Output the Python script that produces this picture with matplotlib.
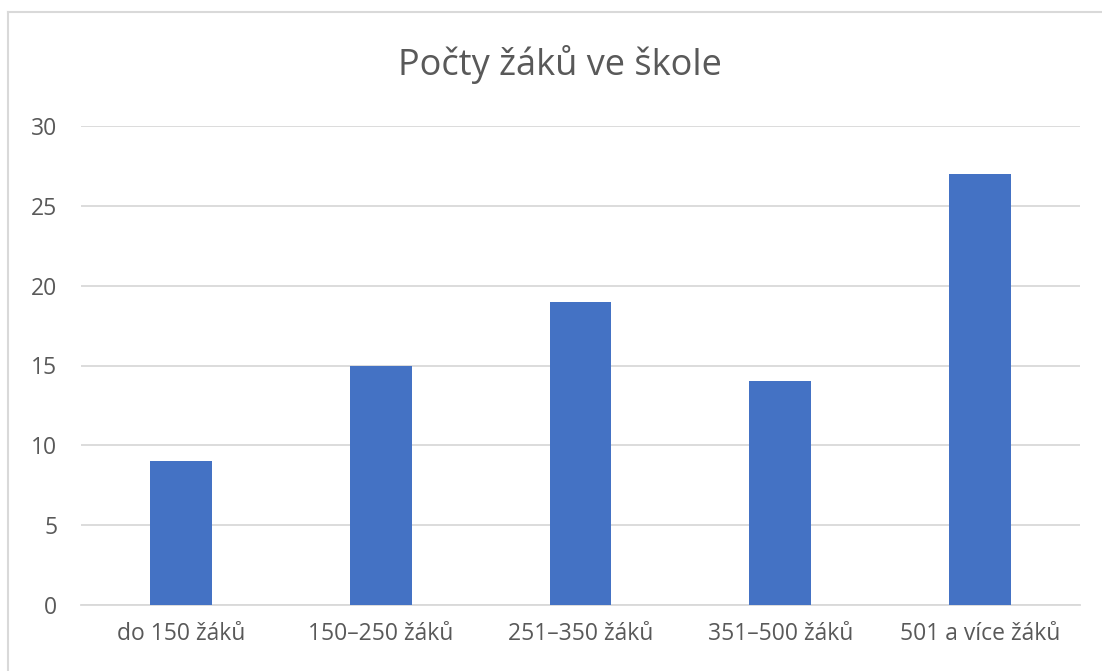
import matplotlib
matplotlib.use("Agg")
import matplotlib.pyplot as plt
from matplotlib.lines import Line2D

categories = ["do 150 žáků", "150–250 žáků", "251–350 žáků", "351–500 žáků", "501 a více žáků"]
counts = [9, 15, 19, 14, 27]
yticks = [0, 5, 10, 15, 20, 25, 30]

plt.rcParams["font.family"] = ["Open Sans", "DejaVu Sans"]
text_color = "#595959"

fig = plt.figure(figsize=(11.02, 6.71), dpi=100)
ax = fig.add_axes([81 / 1102, 1 - 605 / 671, (1080 - 81) / 1102, (605 - 126) / 671])

x = range(len(categories))
ax.bar(x, counts, width=0.31, color="#4472C4", zorder=3)

ax.set_xlim(-0.5, len(categories) - 0.5)
ax.set_ylim(0, 30)
ax.set_yticks(yticks)
ax.set_xticks(list(x))
ax.set_xticklabels(categories)
ax.tick_params(axis="both", length=0, labelsize=16.5, colors=text_color)
ax.tick_params(axis="y", pad=17)
ax.tick_params(axis="x", pad=12)
ax.grid(axis="y", color="#d9d9d9", linewidth=1.3, zorder=0)
for s in ["top", "right", "left"]:
    ax.spines[s].set_visible(False)
ax.spines["bottom"].set_color("#d9d9d9")
ax.spines["bottom"].set_linewidth(1.3)

fig.text(560 / 1102, 1 - 64 / 671, "Počty žáků ve škole", ha="center", va="center",
         fontsize=26, color=text_color)

# chart frame (only left and top edges fall inside the image)
fig.add_artist(Line2D([8 / 1102, 8 / 1102], [0, 1 - 12 / 671], transform=fig.transFigure,
                      color="#d9d9d9", linewidth=1.5))
fig.add_artist(Line2D([8 / 1102, 1], [1 - 12 / 671, 1 - 12 / 671], transform=fig.transFigure,
                      color="#d9d9d9", linewidth=1.5))

fig.savefig("out.png", dpi=100)
